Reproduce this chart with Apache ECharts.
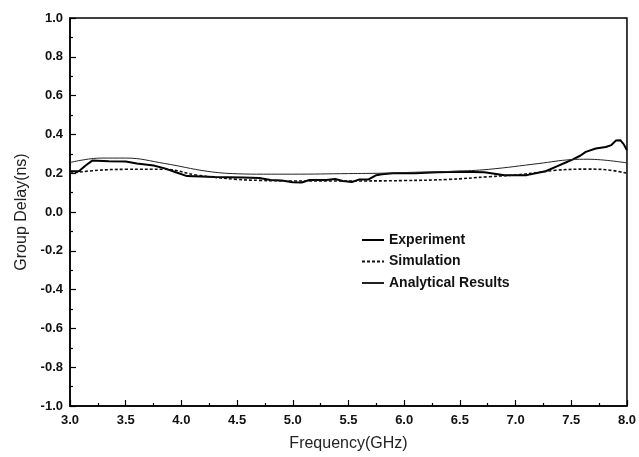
<!DOCTYPE html>
<html>
<head>
<meta charset="utf-8">
<script src="https://cdn.jsdelivr.net/npm/echarts@6/dist/echarts.min.js"></script>
<style>
html,body{margin:0;padding:0;background:#fff;}
#chart{width:639px;height:457px;}
</style>
</head>
<body>
<div id="chart"></div>
<script>
//---- data
var expFreq = [3.0, 3.08, 3.14, 3.2, 3.35, 3.5, 3.6, 3.75, 3.85, 3.95, 4.05, 4.3, 4.55, 4.7, 4.8, 4.9, 5.0, 5.08, 5.15, 5.3, 5.38, 5.45, 5.53, 5.6, 5.68, 5.75, 5.8, 5.9, 6.1, 6.3, 6.5, 6.72, 6.9, 7.1, 7.27, 7.36, 7.45, 7.51, 7.58, 7.63, 7.72, 7.81, 7.86, 7.9, 7.94, 7.97, 8.0];
var expVal  = [0.21, 0.21, 0.24, 0.265, 0.262, 0.26, 0.25, 0.24, 0.225, 0.205, 0.185, 0.18, 0.178, 0.175, 0.165, 0.162, 0.153, 0.152, 0.165, 0.165, 0.17, 0.16, 0.155, 0.168, 0.168, 0.19, 0.195, 0.2, 0.2, 0.205, 0.208, 0.205, 0.19, 0.19, 0.21, 0.233, 0.255, 0.27, 0.29, 0.31, 0.327, 0.335, 0.345, 0.368, 0.37, 0.35, 0.318];

var simFreq = [3.0, 3.25, 3.5, 3.85, 4.14, 4.5, 4.7, 5.0, 5.5, 6.0, 6.4, 6.76, 7.06, 7.36, 7.65, 7.81, 8.0];
var simVal  = [0.2, 0.215, 0.22, 0.22, 0.19, 0.168, 0.163, 0.16, 0.16, 0.162, 0.168, 0.182, 0.194, 0.215, 0.221, 0.218, 0.2];

var anaFreq = [3.0, 3.28, 3.5, 3.85, 4.23, 4.5, 4.74, 5.0, 5.5, 5.8, 6.1, 6.45, 6.76, 7.21, 7.5, 7.65, 8.0];
var anaVal  = [0.255, 0.278, 0.278, 0.25, 0.21, 0.197, 0.195, 0.195, 0.198, 0.2, 0.205, 0.21, 0.22, 0.25, 0.27, 0.272, 0.253];

var xTicks = [3.0, 3.5, 4.0, 4.5, 5.0, 5.5, 6.0, 6.5, 7.0, 7.5, 8.0];

function pairs(xs, ys){
	var v = [];
	for(var i=0;i<xs.length;i++){ v.push([xs[i], ys[i]]); }
	return v;
}

var labelStyle = {color:'#111', fontSize:13, fontFamily:'Liberation Sans, Arial, sans-serif', fontWeight:'bold'};
var nameStyle  = {color:'#222', fontSize:16, fontFamily:'Liberation Sans, Arial, sans-serif'};

var myChart = echarts.init(document.getElementById('chart'));

var option = {
	animation: false,
	backgroundColor: '#fff',
	grid: {left:70, right:11, top:18, bottom:43, show:true, borderColor:'#000', borderWidth:1.5},
	legend: {
		orient: 'vertical',
		left: 356,
		top: 228,
		itemWidth: 22,
		itemHeight: 14,
		itemGap: 7.5,
		itemStyle: {opacity: 0},
		textStyle: {color:'#111', fontSize:14, fontWeight:'bold', fontFamily:'Liberation Sans, Arial, sans-serif'},
		data: ['Experiment', 'Simulation', 'Analytical Results']
	},
	xAxis: {
		type: 'value',
		min: 3, max: 8, interval: 0.5,
		name: 'Frequency(GHz)',
		nameLocation: 'middle',
		nameGap: 30,
		nameTextStyle: nameStyle,
		axisLine: {onZero:false, lineStyle:{color:'#000', width:1.5}},
		axisTick: {inside:true, length:6, lineStyle:{color:'#000', width:1.2}},
		minorTick: {show:true, splitNumber:2, length:3, lineStyle:{color:'#000', width:1.2}},
		axisLabel: {margin:8, formatter:function(v){ return xTicks.indexOf(v) >= 0 ? v.toFixed(1) : ''; }, textStyle:labelStyle},
		splitLine: {show:false}
	},
	yAxis: {
		type: 'value',
		min: -1, max: 1, interval: 0.2,
		name: 'Group Delay(ns)',
		nameLocation: 'middle',
		nameGap: 40,
		nameTextStyle: nameStyle,
		axisLine: {onZero:false, lineStyle:{color:'#000', width:1.5}},
		axisTick: {inside:true, length:6, lineStyle:{color:'#000', width:1.2}},
		minorTick: {show:true, splitNumber:2, length:3, lineStyle:{color:'#000', width:1.2}},
		axisLabel: {margin:7, formatter:function(v){ return v.toFixed(1); }, textStyle:labelStyle},
		splitLine: {show:false}
	},
	series: [{
		name: 'Experiment',
		type: 'line',
		data: pairs(expFreq, expVal),
		showSymbol: false,
		symbol: 'none',
		lineStyle: {color:'#000', width:2},
		itemStyle: {color:'#000'}
	}, {
		name: 'Simulation',
		type: 'line',
		data: pairs(simFreq, simVal),
		smooth: 0.4,
		showSymbol: false,
		symbol: 'none',
		lineStyle: {color:'#111', width:1.6, type:[3,2]},
		itemStyle: {color:'#111'}
	}, {
		name: 'Analytical Results',
		type: 'line',
		data: pairs(anaFreq, anaVal),
		smooth: 0.4,
		showSymbol: false,
		symbol: 'none',
		lineStyle: {color:'#222', width:1},
		itemStyle: {color:'#222'}
	}]
};

myChart.setOption(option);
</script>
</body>
</html>
